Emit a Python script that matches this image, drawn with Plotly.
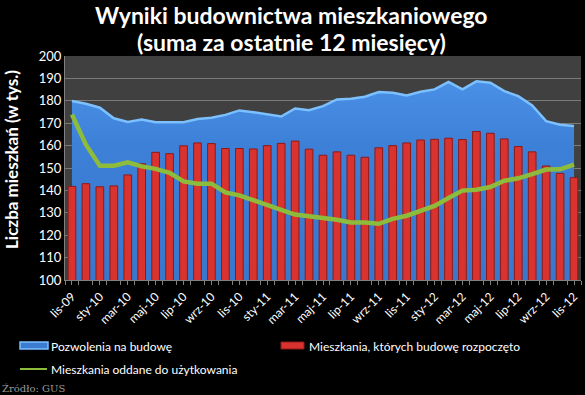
import plotly.graph_objects as go

months = ["lis-09", "gru-09", "sty-10", "lut-10", "mar-10", "kwi-10", "maj-10", "cze-10",
          "lip-10", "sie-10", "wrz-10", "paź-10", "lis-10", "gru-10", "sty-11", "lut-11",
          "mar-11", "kwi-11", "maj-11", "cze-11", "lip-11", "sie-11", "wrz-11", "paź-11",
          "lis-11", "gru-11", "sty-12", "lut-12", "mar-12", "kwi-12", "maj-12", "cze-12",
          "lip-12", "sie-12", "wrz-12", "paź-12", "lis-12"]

pozwolenia = [179.9, 178.7, 176.9, 172.2, 170.6, 171.6, 170.4, 170.4, 170.4, 171.9,
              172.4, 173.7, 175.7, 174.9, 173.9, 173.0, 176.6, 175.8, 177.6, 180.6,
              180.9, 181.8, 183.9, 183.6, 182.4, 184.0, 185.1, 188.4, 185.1, 188.7,
              188.1, 184.3, 182.1, 177.9, 170.9, 169.3, 168.7]

rozpoczete = [141.8, 143.0, 141.6, 142.0, 146.9, 151.9, 157.0, 156.4, 159.9, 161.2,
              160.9, 158.7, 158.7, 158.5, 160.0, 161.0, 162.0, 158.4, 155.7, 157.2,
              155.7, 154.8, 159.0, 160.0, 161.2, 162.5, 162.8, 163.3, 162.7, 166.3,
              165.5, 163.0, 159.6, 157.2, 150.9, 147.6, 145.7]

oddane = [173.9, 160.4, 151.0, 151.0, 152.5, 150.7, 149.6, 147.8, 144.0, 143.0,
          143.0, 139.1, 137.8, 135.8, 133.3, 131.3, 129.2, 128.4, 127.9, 126.9,
          125.7, 125.7, 125.1, 127.3, 128.7, 130.9, 133.1, 136.6, 139.9, 140.3,
          141.5, 144.3, 145.4, 147.3, 149.3, 149.4, 151.5]

series_names = ["Pozwolenia na budowę", "Mieszkania, których budowę rozpoczęto",
                "Mieszkania oddane do użytkowania"]

title_lines = ["Wyniki budownictwa mieszkaniowego", "(suma za ostatnie 12 miesięcy)"]
y_title = "Liczba mieszkań (w tys.)"
source = "Źródło: GUS"

y_ticks = list(range(100, 201, 10))

xs = list(range(len(months)))
tick_idx = xs[::2]
tick_txt = [months[i] for i in tick_idx]

FONT = "Lato"
BLUE = "#3b7cd2"
BLUE_EDGE = "#7cc0ff"
RED = "#d8332e"
RED_EDGE = "#8e1a18"
GREEN = "#8dbb3c"

W, H = 585, 395
L, R, T, B = 65, 4, 56, 115
PW, PH = W - L - R, H - T - B


def px(x):
    return (x - L) / PW


def py(y):
    return (H - B - y) / PH


fig = go.Figure()
fig.add_trace(go.Scatter(
    x=xs, y=pozwolenia, name=series_names[0],
    mode="lines", fill="tozeroy",
    line=dict(color=BLUE_EDGE, width=2.5),
    fillcolor=BLUE,
    fillgradient=dict(type="vertical",
                      colorscale=[[0.0, "#2f68b8"], [0.85, "#3d80d8"], [1.0, "#4a90e6"]]),
    yaxis="y", showlegend=False,
))
fig.add_trace(go.Bar(
    x=xs, y=rozpoczete, name=series_names[1],
    marker=dict(color=RED, line=dict(color=RED_EDGE, width=1)),
    width=0.55, yaxis="y2", showlegend=False,
))
fig.add_trace(go.Scatter(
    x=xs, y=oddane, name=series_names[2],
    mode="lines", line=dict(color=GREEN, width=4.5),
    yaxis="y2", showlegend=False,
))

fig.update_layout(
    width=W, height=H,
    paper_bgcolor="black", plot_bgcolor="#404040",
    margin=dict(l=L, r=R, t=T, b=B, autoexpand=False),
    font=dict(family=FONT, color="white", size=13),
    showlegend=False,
    bargap=0.4,
    yaxis2=dict(overlaying="y", range=[100, 200], visible=False),
)

fig.update_xaxes(
    range=[-0.5, len(months) - 0.5],
    tickmode="array", tickvals=tick_idx, ticktext=tick_txt,
    tickangle=-45, tickfont=dict(size=12, color="white"),
    showgrid=False, zeroline=False,
    showline=True, linecolor="#808080", linewidth=1,
    ticks="outside", ticklen=4, tickcolor="#808080",
    minor=dict(ticks="outside", ticklen=4, tickcolor="#808080", tick0=-0.5, dtick=1, showgrid=False),
)
fig.layout.yaxis.update(
    range=[100, 200], tickvals=y_ticks,
    tickfont=dict(size=13, color="white"),
    showgrid=True, gridcolor="#7a7a7a", gridwidth=1,
    zeroline=False, showline=True, linecolor="#808080",
)

# y-axis title
fig.add_annotation(text="<b>" + y_title + "</b>", xref="paper", yref="paper",
                   x=px(11), y=py(160), xanchor="center", yanchor="middle",
                   textangle=-90, showarrow=False,
                   font=dict(family=FONT, size=17, color="white"))

# title
for ty, line in zip([15, 42], title_lines):
    fig.add_annotation(text="<b>" + line + "</b>", xref="paper", yref="paper",
                       x=px(291), y=py(ty), xanchor="center", yanchor="middle",
                       showarrow=False, font=dict(family=FONT, size=23, color="white"))

# manual legend
shapes = []
shapes.append(dict(type="rect", xref="paper", yref="paper",
                   x0=px(20), x1=px(48), y0=py(349), y1=py(342),
                   fillcolor=BLUE, line=dict(color=BLUE_EDGE, width=1.5)))
shapes.append(dict(type="rect", xref="paper", yref="paper",
                   x0=px(281), x1=px(304), y0=py(349), y1=py(342),
                   fillcolor=RED, line=dict(color=RED_EDGE, width=1)))
shapes.append(dict(type="line", xref="paper", yref="paper",
                   x0=px(20), x1=px(47), y0=py(369), y1=py(369),
                   line=dict(color=GREEN, width=2)))
fig.update_layout(shapes=shapes)

legend_items = [(49, 346, series_names[0]), (307, 346, series_names[1]), (49, 369, series_names[2])]
for lx, ly, txt in legend_items:
    fig.add_annotation(text=txt, xref="paper", yref="paper", x=px(lx), y=py(ly),
                       xanchor="left", yanchor="middle", showarrow=False,
                       font=dict(family=FONT, size=12, color="white"))

fig.add_annotation(
    text=source, xref="paper", yref="paper",
    x=px(0), y=py(388), xanchor="left", yanchor="middle",
    showarrow=False, font=dict(family="DejaVu Serif", size=10, color="#9a9a9a"),
)

fig.write_html("out.html", config={"displayModeBar": False},
               post_script="document.body.style.margin='0px';")
